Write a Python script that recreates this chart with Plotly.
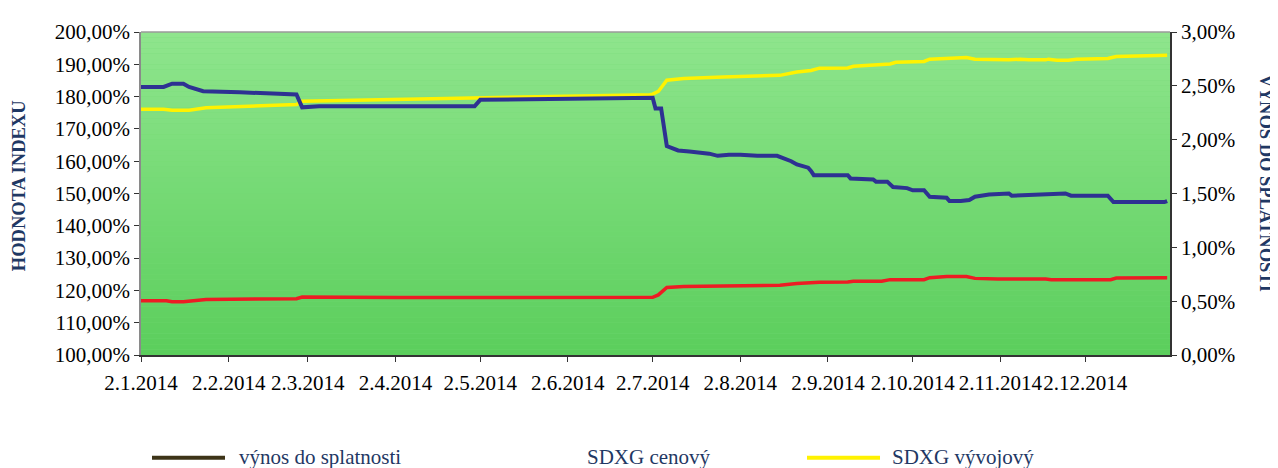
import plotly.graph_objects as go

# ---------------- data ----------------
yield_dates = ["2014-01-02", "2014-01-10", "2014-01-13", "2014-01-17", "2014-01-19", "2014-01-24",
               "2014-02-06", "2014-02-17", "2014-02-24", "2014-02-26", "2014-02-28", "2014-03-06",
               "2014-04-03", "2014-04-30", "2014-05-02", "2014-05-30", "2014-06-20", "2014-07-02",
               "2014-07-03", "2014-07-05", "2014-07-07", "2014-07-09", "2014-07-11", "2014-07-15",
               "2014-07-18", "2014-07-22", "2014-07-25", "2014-07-29", "2014-08-02", "2014-08-08",
               "2014-08-15", "2014-08-20", "2014-08-22", "2014-08-26", "2014-08-27", "2014-08-28",
               "2014-09-06", "2014-09-09", "2014-09-10", "2014-09-18", "2014-09-19", "2014-09-23",
               "2014-09-25", "2014-09-30", "2014-10-02", "2014-10-06", "2014-10-08", "2014-10-14",
               "2014-10-15", "2014-10-19", "2014-10-22", "2014-10-24", "2014-10-29", "2014-11-03",
               "2014-11-05", "2014-11-06", "2014-11-18", "2014-11-20", "2014-11-25", "2014-11-27",
               "2014-12-10", "2014-12-12", "2014-12-30", "2014-12-31"]
yield_values = [2.49, 2.49, 2.52, 2.52, 2.49, 2.45,
                2.44, 2.43, 2.42, 2.42, 2.30, 2.31,
                2.31, 2.31, 2.37, 2.38, 2.39, 2.39,
                2.29, 2.29, 1.94, 1.92, 1.90, 1.89,
                1.88, 1.87, 1.85, 1.86, 1.86, 1.85,
                1.85, 1.80, 1.77, 1.74, 1.71, 1.67,
                1.67, 1.67, 1.64, 1.63, 1.61, 1.61,
                1.56, 1.55, 1.53, 1.53, 1.47, 1.46,
                1.43, 1.43, 1.44, 1.47, 1.49, 1.50,
                1.50, 1.48, 1.49, 1.50, 1.50, 1.48,
                1.48, 1.42, 1.42, 1.43]

total_dates = ["2014-01-02", "2014-01-10", "2014-01-13", "2014-01-19", "2014-01-25", "2014-02-26",
               "2014-02-28", "2014-04-03", "2014-07-01", "2014-07-02", "2014-07-04", "2014-07-07",
               "2014-07-13", "2014-07-27", "2014-08-16", "2014-08-22", "2014-08-27", "2014-08-30",
               "2014-09-09", "2014-09-11", "2014-09-18", "2014-09-24", "2014-09-26", "2014-10-06",
               "2014-10-08", "2014-10-14", "2014-10-15", "2014-10-21", "2014-10-24", "2014-11-01",
               "2014-11-05", "2014-11-09", "2014-11-12", "2014-11-18", "2014-11-19", "2014-11-22",
               "2014-11-26", "2014-11-29", "2014-12-10", "2014-12-13", "2014-12-18", "2014-12-31"]
total_values = [176.07, 176.07, 175.77, 175.77, 176.58, 177.57,
                178.59, 179.07, 180.57, 180.78, 181.59, 185.08,
                185.59, 186.10, 186.58, 187.60, 188.08, 188.80,
                188.89, 189.40, 189.79, 190.09, 190.60, 190.90,
                191.59, 191.80, 192.10, 192.10, 191.59, 191.38,
                191.38, 191.59, 191.38, 191.38, 191.59, 191.29,
                191.29, 191.59, 191.80, 192.40, 192.58, 192.79]

price_dates = ["2014-01-02", "2014-01-11", "2014-01-13", "2014-01-17", "2014-01-25", "2014-02-26",
               "2014-02-28", "2014-04-03", "2014-07-02", "2014-07-04", "2014-07-07", "2014-07-13",
               "2014-07-27", "2014-08-16", "2014-08-22", "2014-08-30", "2014-09-09", "2014-09-11",
               "2014-09-21", "2014-09-24", "2014-10-06", "2014-10-08", "2014-10-14", "2014-10-21",
               "2014-10-24", "2014-11-01", "2014-11-18", "2014-11-20", "2014-12-11", "2014-12-13",
               "2014-12-31"]
price_values = [116.82, 116.82, 116.52, 116.52, 117.21, 117.42,
                117.93, 117.81, 117.85, 118.60, 120.90, 121.20,
                121.40, 121.60, 122.10, 122.50, 122.60, 122.80,
                122.82, 123.33, 123.33, 123.93, 124.32, 124.32,
                123.72, 123.51, 123.51, 123.33, 123.33, 123.81,
                123.93]

x_tick_vals = ["2014-01-02", "2014-02-02", "2014-03-02", "2014-04-02", "2014-05-02", "2014-06-02",
               "2014-07-02", "2014-08-02", "2014-09-02", "2014-10-02", "2014-11-02", "2014-12-02"]
x_tick_text = ["2.1.2014", "2.2.2014", "2.3.2014", "2.4.2014", "2.5.2014", "2.6.2014",
               "2.7.2014", "2.8.2014", "2.9.2014", "2.10.2014", "2.11.2014", "2.12.2014"]

legend_labels = ["výnos do splatnosti", "SDXG cenový", "SDXG vývojový"]
left_title = "HODNOTA INDEXU"
right_title = "VÝNOS DO SPLATNOSTI"

# ---------------- layout geometry ----------------
OFF = 8  # page body margin of the html page
W, H = 1278 - OFF, 468 - OFF
L, R, T, B = 141 - OFF, 108, 22 - OFF, 113
PW, PH = W - L - R, H - T - B


def px_x(x):
    return (x - OFF - L) / PW


def px_y(y):
    return (H - B - (y - OFF)) / PH


FONT = "Liberation Serif"
NAVY = "#1F3864"
TICKSIZE = 21

fig = go.Figure()

fig.add_trace(go.Scatter(x=price_dates, y=price_values, mode="lines", name=legend_labels[1],
                         line=dict(color="#ED1C24", width=3.5), showlegend=False))
fig.add_trace(go.Scatter(x=total_dates, y=total_values, mode="lines", name=legend_labels[2],
                         line=dict(color="#FFF200", width=3.5), showlegend=False))
fig.add_trace(go.Scatter(x=yield_dates, y=yield_values, mode="lines", name=legend_labels[0],
                         line=dict(color="#2E3192", width=4), yaxis="y2", showlegend=False))

# gradient background
shapes = []
N = 60
top = (143, 229, 141)
bot = (91, 206, 92)
for i in range(N):
    t = (i + 0.5) / N
    c = tuple(round(bot[k] + (top[k] - bot[k]) * t) for k in range(3))
    shapes.append(dict(type="rect", xref="paper", yref="paper", x0=0, x1=1,
                       y0=i / N, y1=(i + 1) / N, fillcolor="rgb(%d,%d,%d)" % c,
                       line=dict(width=0), layer="below"))
# top border
shapes.append(dict(type="line", xref="paper", yref="paper", x0=0, x1=1, y0=1, y1=1,
                   line=dict(color="#9a9a9a", width=1.5)))
# legend line samples
shapes.append(dict(type="line", xref="paper", yref="paper", x0=px_x(152), x1=px_x(225),
                   y0=px_y(461), y1=px_y(461), line=dict(color="#3D3418", width=4)))
shapes.append(dict(type="line", xref="paper", yref="paper", x0=px_x(807), x1=px_x(880),
                   y0=px_y(461), y1=px_y(461), line=dict(color="#FFF200", width=4)))

annotations = [
    dict(text=left_title, xref="paper", yref="paper", x=px_x(19), y=px_y(181), textangle=-90,
         showarrow=False, font=dict(family=FONT, size=18.5, color=NAVY, weight="bold"),
         xanchor="center", yanchor="middle"),
    dict(text=right_title, xref="paper", yref="paper", x=px_x(1267), y=px_y(178), textangle=90,
         showarrow=False, font=dict(family=FONT, size=18.5, color=NAVY, weight="bold"),
         xanchor="center", yanchor="middle"),
]
for lbl, xpx in zip(legend_labels, [237, 585, 890]):
    annotations.append(dict(text=lbl, xref="paper", yref="paper", x=px_x(xpx), y=px_y(460),
                            showarrow=False, xanchor="left", yanchor="middle",
                            font=dict(family=FONT, size=21, color=NAVY)))

fig.update_layout(
    width=W, height=H, autosize=False,
    margin=dict(l=L, r=R, t=T, b=B, pad=0),
    paper_bgcolor="white", plot_bgcolor="#75D976",
    separators=", ",
    font=dict(family=FONT, size=TICKSIZE, color="black"),
    showlegend=False,
    shapes=shapes, annotations=annotations,
    xaxis=dict(type="date", range=["2014-01-02", "2015-01-01"], tickvals=x_tick_vals,
               ticktext=x_tick_text, tickangle=0, showgrid=False, zeroline=False, showline=True,
               linecolor="#333333", linewidth=1.5, ticks="outside", ticklen=5,
               ticklabelstandoff=3,
               tickcolor="#333333", tickfont=dict(family=FONT, size=TICKSIZE, color="black")),
    yaxis=dict(range=[100, 200], dtick=10, tick0=100, tickformat=".2f", ticksuffix="%",
               showgrid=False, zeroline=False, showline=True, linecolor="#8a8a8a", linewidth=1.5,
               ticks="outside", ticklen=5, tickcolor="#333333",
               tickfont=dict(family=FONT, size=TICKSIZE, color="black")),
    yaxis2=dict(range=[0, 3], dtick=0.5, tick0=0, tickformat=".2f", ticksuffix="%",
                overlaying="y", side="right", showgrid=False, zeroline=False, showline=True,
                linecolor="#333333", linewidth=1.5, ticks="outside", ticklen=5,
                tickcolor="#333333", tickfont=dict(family=FONT, size=TICKSIZE, color="black")),
)

fig.write_html("out.html")
